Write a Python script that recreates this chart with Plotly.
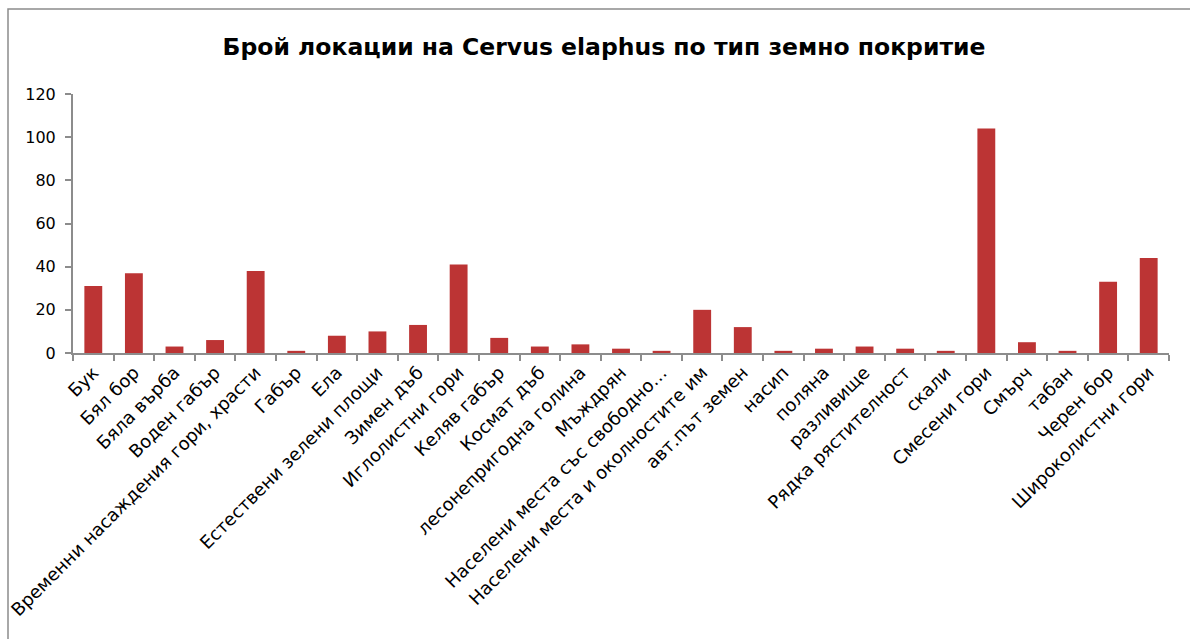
import plotly.graph_objects as go

categories = [
    "Бук", "Бял бор", "Бяла върба", "Воден габър", "Временни насаждения гори, храсти",
    "Габър", "Ела", "Естествени зелени площи", "Зимен дъб", "Иглолистни гори",
    "Келяв габър", "Космат дъб", "лесонепригодна голина", "Мъждрян",
    "Населени места със свободно…", "Населени места и околностите им",
    "авт.път земен", "насип", "поляна", "разливище", "Рядка рястителност",
    "скали", "Смесени гори", "Смърч", "табан", "Черен бор", "Широколистни гори",
]
values = [31, 37, 3, 6, 38, 1, 8, 10, 13, 41, 7, 3, 4, 2, 1, 20, 12, 1, 2, 3, 2, 1, 104, 5, 1, 33, 44]
y_ticks = [0, 20, 40, 60, 80, 100, 120]

title_text = "Брой локации на Cervus elaphus по тип земно покритие"

FONT = "DejaVu Sans"

fig = go.Figure(
    go.Bar(
        x=categories,
        y=values,
        marker=dict(color="#BC3434", line=dict(width=0)),
        width=0.44,
    )
)

L, R, T, B = 73, 21, 94, 286
W, H = 1190, 639
pw, ph = W - L - R, H - T - B

def px_x(p):
    return (p - L) / pw

def px_y(p):
    return (H - B - p) / ph

fig.update_layout(
    width=W,
    height=H,
    margin=dict(l=L, r=R, t=T, b=B),
    paper_bgcolor="white",
    plot_bgcolor="white",
    showlegend=False,
    title=dict(
        text="<b>" + title_text + "</b>",
        x=px_x(604), xref="paper", xanchor="center",
        y=1 - 47 / H, yref="container", yanchor="middle",
        font=dict(family=FONT, size=23.5, color="black"),
    ),
    font=dict(family=FONT, color="black"),
    shapes=[
        dict(
            type="rect", xref="paper", yref="paper",
            x0=px_x(8), x1=px_x(1200), y0=px_y(650), y1=px_y(9),
            line=dict(color="#8c8c8c", width=1.5), fillcolor="rgba(0,0,0,0)",
            layer="below",
        )
    ],
)

fig.update_xaxes(
    type="category",
    tickangle=-45,
    tickfont=dict(family=FONT, size=18, color="black"),
    showline=True, linecolor="#8c8c8c", linewidth=2,
    ticks="outside", tickcolor="#8c8c8c", ticklen=6, tickwidth=1.5,
    tickson="boundaries",
    showgrid=False,
    automargin=False,
    range=[-0.5, len(categories) - 0.5],
)
fig.update_yaxes(
    range=[0, 120],
    tickvals=y_ticks,
    tickfont=dict(family=FONT, size=16, color="black"),
    showline=True, linecolor="#8c8c8c", linewidth=2,
    ticks="outside", tickcolor="#8c8c8c", ticklen=6, tickwidth=1.5,
    ticklabelstandoff=6,
    showgrid=False, zeroline=False,
    automargin=False,
)

fig.write_html("out.html")
